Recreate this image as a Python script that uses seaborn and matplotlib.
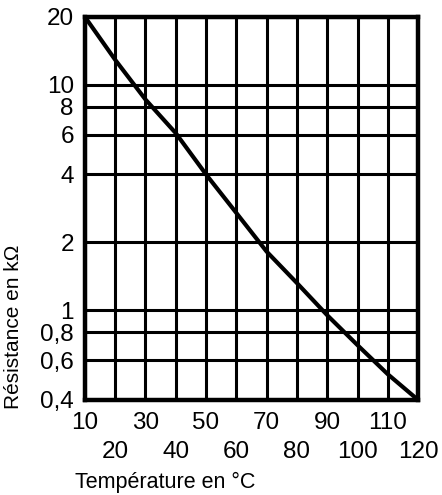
import matplotlib
matplotlib.use('Agg')
import numpy as np
import pandas as pd
import matplotlib.pyplot as plt
import seaborn as sns
from matplotlib.ticker import FixedLocator, NullLocator

# Courbe NTC
temperature = [10, 20, 30, 40, 50, 60, 70, 80, 90, 100, 110, 120]
resistance = [20, 12.9, 8.6, 6.1, 4.0, 2.7, 1.82, 1.32, 0.95, 0.70, 0.52, 0.4]

x_ticks_haut = [10, 30, 50, 70, 90, 110]
x_ticks_bas = [20, 40, 60, 80, 100, 120]
y_ticks = [0.4, 0.6, 0.8, 1, 2, 4, 6, 8, 10, 20]
y_labels = ["0,4", "0,6", "0,8", "1", "2", "4", "6", "8", "10", "20"]

sns.set_theme(style="white", rc={"text.color": "black", "axes.labelcolor": "black",
                                 "xtick.color": "black", "ytick.color": "black"})
plt.rcParams['font.family'] = ['Liberation Sans', 'DejaVu Sans']

df = pd.DataFrame({"temp": temperature, "res": resistance})

fig = plt.figure(figsize=(4.42, 4.95), dpi=100)
ax = fig.add_axes([0.192, 0.192, 0.754, 0.774])

ax.set_yscale("log")
ax.set_xlim(10, 120)
ax.set_ylim(0.4, 20)

# Quadrillage
for xv in x_ticks_haut + x_ticks_bas:
    ax.axvline(xv, color="black", lw=2.2, zorder=1)
for yv in y_ticks:
    ax.axhline(yv, color="black", lw=2.2, zorder=1)

sns.lineplot(data=df, x="temp", y="res", color="black", lw=3.0, ax=ax, zorder=3)

ax.yaxis.set_major_locator(FixedLocator(y_ticks))
ax.yaxis.set_minor_locator(NullLocator())
ax.set_yticklabels(y_labels)

ax.xaxis.set_major_locator(FixedLocator(x_ticks_haut))
ax.xaxis.set_minor_locator(FixedLocator(x_ticks_bas))
ax.set_xticklabels([str(v) for v in x_ticks_haut])
ax.set_xticklabels([str(v) for v in x_ticks_bas], minor=True)

ax.tick_params(axis="x", which="major", direction="out", length=6, width=2.2,
               color="black", labelcolor="black", pad=3, labelsize=17.5)
ax.tick_params(axis="x", which="minor", direction="out", length=6, width=2.2,
               color="black", labelcolor="black", pad=23.5, labelsize=17.5)
ax.tick_params(axis="y", which="major", direction="out", length=6, width=2.2,
               color="black", labelcolor="black", pad=2, labelsize=17.5)

for s in ax.spines.values():
    s.set_linewidth(3.2)
    s.set_color("black")

ax.set_xlabel("Température en °C", fontsize=15.5, color="black")
ax.set_ylabel("Résistance en kΩ", fontsize=15, color="black")
ax.xaxis.set_label_coords(0.24, -0.188)
ax.yaxis.set_label_coords(-0.185, 0.19)

fig.savefig("out.png", dpi=100)
